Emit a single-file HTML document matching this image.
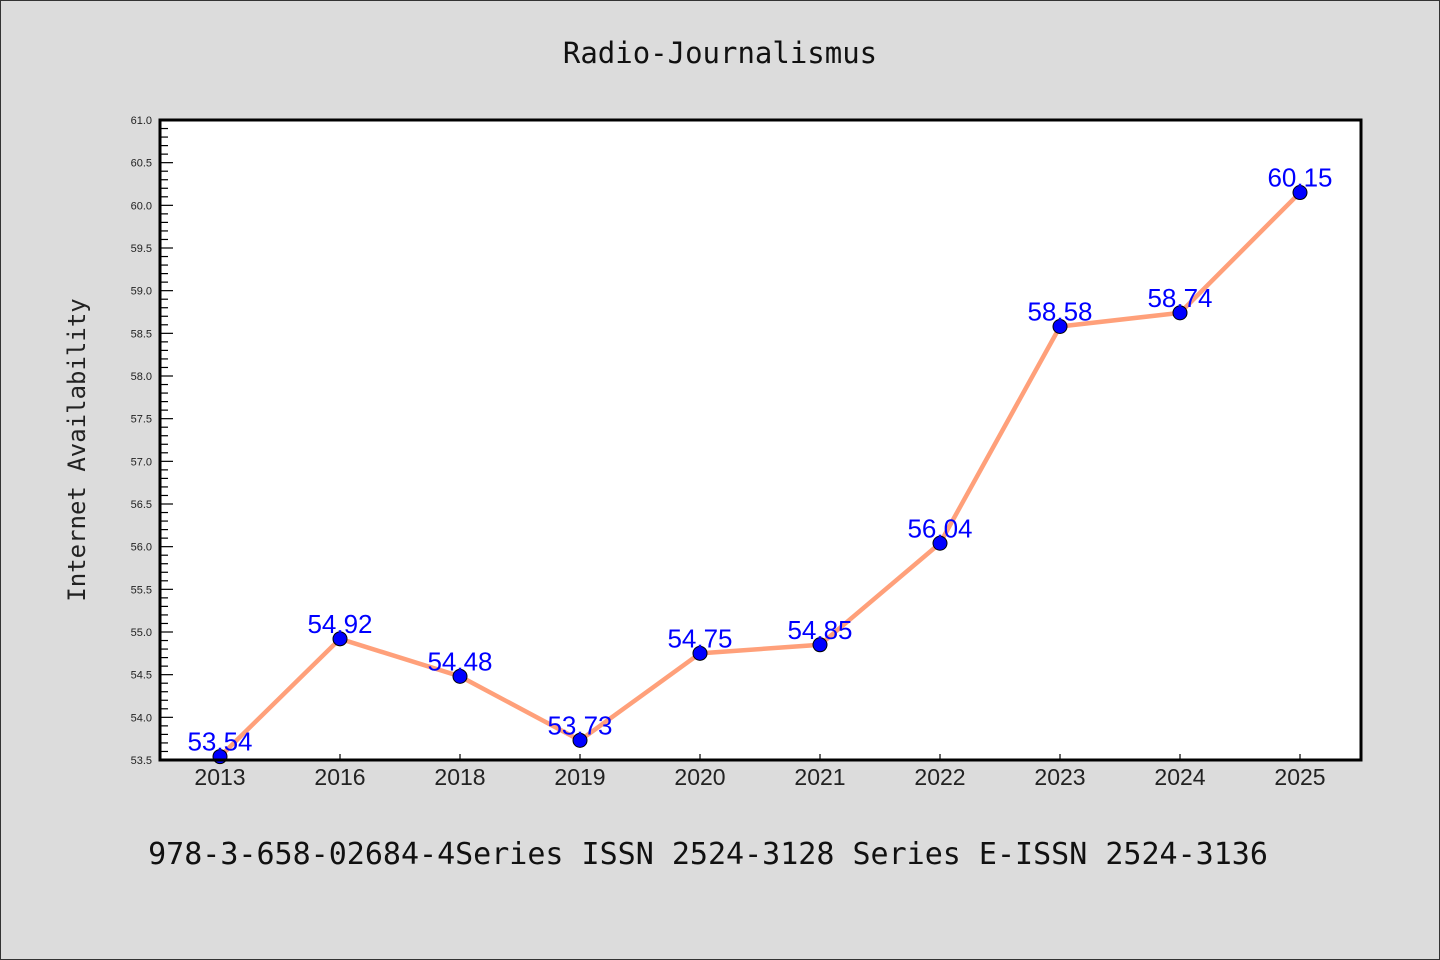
<!DOCTYPE html>
<html><head><meta charset="utf-8"><style>
body{margin:0;background:#dcdcdc;}
svg{display:block;font-family:"Liberation Sans","DejaVu Sans",sans-serif;}
</style></head><body>
<svg id="chart" width="1440" height="960">
<rect x="0.5" y="0.5" width="1439" height="959" fill="#dcdcdc" stroke="#333"/>
<text x="720" y="63" text-anchor="middle" font-size="29" fill="#111" font-family="DejaVu Sans Mono, monospace">Radio-Journalismus</text>
<rect x="160" y="120" width="1201" height="640" fill="#fff"/>
<g id="yaxis"></g>
<g id="xaxis"></g>
<g id="series"></g>
<rect x="160" y="120" width="1201" height="640" fill="none" stroke="#000" stroke-width="3"/>
<text transform="translate(85,450) rotate(-90)" text-anchor="middle" font-size="24" fill="#222" font-family="DejaVu Sans Mono, monospace">Internet Availability</text>
<text x="708" y="864" text-anchor="middle" font-size="30" fill="#111" font-family="DejaVu Sans Mono, monospace">978-3-658-02684-4Series ISSN 2524-3128 Series E-ISSN 2524-3136</text>
</svg>
<script>
const categories=["2013","2016","2018","2019","2020","2021","2022","2023","2024","2025"];
const values=[53.54,54.92,54.48,53.73,54.75,54.85,56.04,58.58,58.74,60.15];
const yTicks=["53.5","54.0","54.5","55.0","55.5","56.0","56.5","57.0","57.5","58.0","58.5","59.0","59.5","60.0","60.5","61.0"];
const NS="http://www.w3.org/2000/svg";
const yMin=53.5,yMax=61,plotTop=120,plotBot=760;
function yScale(v){return plotBot-(v-yMin)/(yMax-yMin)*(plotBot-plotTop);}
function xScale(i){return 220+i*120;}
function mk(tag,attrs,parent){const e=document.createElementNS(NS,tag);for(const k in attrs)e.setAttribute(k,attrs[k]);parent.appendChild(e);return e;}
const ya=document.getElementById('yaxis'),xa=document.getElementById('xaxis'),sg=document.getElementById('series');
for(let k=0;k<=75;k++){
  const v=yMin+k*0.1;
  const major=k%5===0;
  const t=mk('line',{x1:160,x2:major?173:168,y1:yScale(v),y2:yScale(v),stroke:'#000','stroke-width':1.2},ya);
  
  
}
yTicks.forEach(s=>{
  const t=mk('text',{x:152,y:yScale(parseFloat(s))+4,'text-anchor':'end','font-size':11,fill:'#222'},ya);
  t.textContent=s;
  
  
});
categories.forEach((c,i)=>{
  const tk=mk('line',{x1:xScale(i),x2:xScale(i),y1:plotBot,y2:plotBot-6,stroke:'#000','stroke-width':1.2},xa);
  
  
  const t=mk('text',{x:xScale(i),y:plotBot+25,'text-anchor':'middle','font-size':23,fill:'#222'},xa);
  t.textContent=c;
  
  
});
const pl=mk('polyline',{points:values.map((v,i)=>xScale(i)+','+yScale(v)).join(' '),fill:'none',stroke:'#ffa07a','stroke-width':4.5},sg);


values.forEach((v,i)=>{
  const c=mk('circle',{cx:xScale(i),cy:yScale(v),r:7,fill:'#0000ff',stroke:'#000','stroke-width':1},sg);
  
  
  const t=mk('text',{x:xScale(i),y:yScale(v)-6,'text-anchor':'middle','font-size':26,fill:'#0000ff'},sg);
  t.textContent=v.toFixed(2);
  
  
});
</script>
</body></html>
